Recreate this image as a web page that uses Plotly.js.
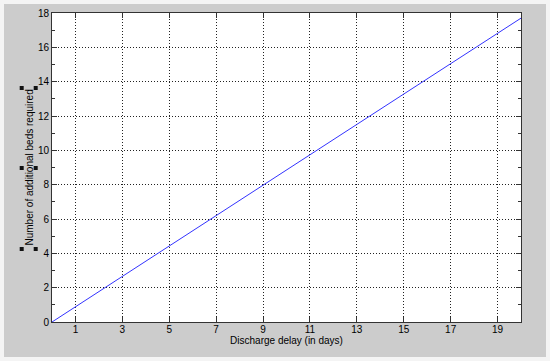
<!DOCTYPE html>
<html>
<head>
<meta charset="utf-8">
<script src="https://cdn.plot.ly/plotly-3.0.1.min.js"></script>
<style>
  html, body { margin: 0; padding: 0; background: #f4f4f4; }
  #chart { position: absolute; left: 4px; top: 4px; width: 542px; height: 353px; }
</style>
</head>
<body>
<div id="chart"></div>
<script>
(function() {
  "use strict";

  // values
  var delayDays = [0, 1, 3, 5, 7, 9, 11, 13, 15, 17, 19, 20];
  var extraBeds = [0, 0.89, 2.65, 4.42, 6.19, 7.97, 9.74, 11.51, 13.28, 15.05, 16.82, 17.7];
  var xTicks = [1, 3, 5, 7, 9, 11, 13, 15, 17, 19];
  var yTicks = [0, 2, 4, 6, 8, 10, 12, 14, 16, 18];

  var margin = {l: 48, r: 25, t: 9, b: 35};
  var plotW = 542 - margin.l - margin.r;
  var plotH = 353 - margin.t - margin.b;

  // page pixel -> paper coords (y title and its selection handles)
  function px(x) { return (x - 4 - margin.l) / plotW; }
  function py(y) { return 1 - (y - 4 - margin.t) / plotH; }

  function handle(x, y) {
    return {
      type: "rect", xref: "paper", yref: "paper",
      xsizemode: "pixel", ysizemode: "pixel",
      xanchor: px(x), yanchor: py(y),
      x0: -2, x1: 2, y0: -2, y1: 2,
      fillcolor: "#111", line: {width: 0}
    };
  }

  function main() {
    var trace = {
      x: delayDays,
      y: extraBeds,
      type: "scatter",
      mode: "lines",
      line: {color: "#3333ff", width: 1},
      hoverinfo: "skip"
    };

    var font = {family: "Liberation Sans, Arial, sans-serif", size: 10, color: "#000"};

    var layout = {
      width: 542,
      height: 353,
      margin: margin,
      paper_bgcolor: "#cccccc",
      plot_bgcolor: "#ffffff",
      showlegend: false,
      font: font,
      xaxis: {
        range: [0, 20],
        tickvals: xTicks,
        ticks: "inside",
        ticklen: 5,
        tickcolor: "#333",
        ticklabelstandoff: -2,
        showline: true,
        linecolor: "#333",
        mirror: "ticks",
        showgrid: true,
        gridcolor: "#222",
        griddash: "1px,2px",
        zeroline: false,
        fixedrange: true,
        title: {text: "Discharge delay (in days)", font: font, standoff: 0}
      },
      yaxis: {
        range: [0, 18],
        tickvals: yTicks,
        ticks: "inside",
        ticklen: 5,
        tickcolor: "#333",
        showline: true,
        linecolor: "#333",
        mirror: "ticks",
        showgrid: true,
        gridcolor: "#222",
        griddash: "1px,2px",
        zeroline: false,
        fixedrange: true,
        minor: {dtick: 1, ticks: "inside", ticklen: 3, tickcolor: "#333", showgrid: false}
      },
      annotations: [{
        text: "Number of additional beds required",
        xref: "paper", yref: "paper",
        x: px(28.5), y: py(168),
        xanchor: "center", yanchor: "middle",
        textangle: -90,
        showarrow: false,
        font: font
      }],
      shapes: [
        handle(21.7, 88), handle(35.7, 88),
        handle(21.7, 168), handle(35.7, 168),
        handle(21.7, 249), handle(35.7, 249)
      ]
    };

    Plotly.newPlot("chart", [trace], layout, {displayModeBar: false, staticPlot: true});
  }

  window.addEventListener("load", main, false);
})();
</script>
</body>
</html>
